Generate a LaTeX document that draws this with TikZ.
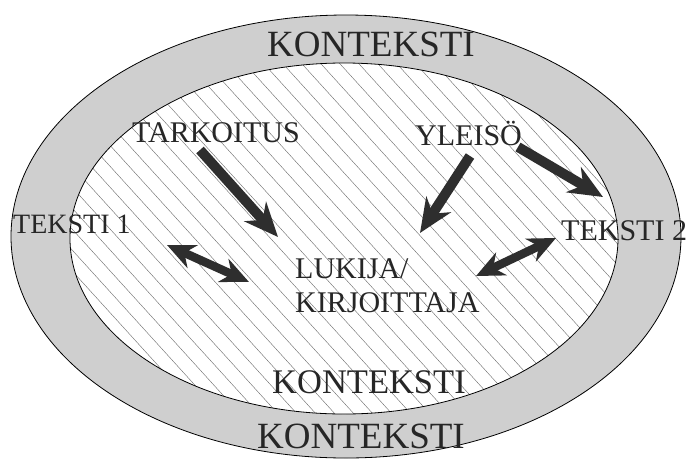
\documentclass[tikz,border=0pt]{standalone}
\usepackage{fontspec}
\setmainfont{Liberation Serif}
\usetikzlibrary{arrows.meta}
\definecolor{ringgray}{gray}{0.81}
\definecolor{hatchgray}{gray}{0.42}
\definecolor{arrowgray}{gray}{0.18}
\begin{document}
\begin{tikzpicture}[x=1pt,y=-1pt,
  lbl/.style={anchor=base west,inner sep=0pt,text=black!85},
  midfont/.style={font=\fontsize{30}{36}\selectfont},
  bigfont/.style={font=\fontsize{37}{44}\selectfont},
  onearrow/.style={draw=arrowgray,line width=10pt,
    -{Stealth[length=34pt,width=29pt,inset=11pt,fill=arrowgray]}},
  twoarrow/.style={draw=arrowgray,line width=8.5pt,
    {Stealth[length=28pt,width=25pt,inset=9pt,fill=arrowgray]}-{Stealth[length=28pt,width=25pt,inset=9pt,fill=arrowgray]}},
  ring/.style={draw=black,line width=0.8pt}
]
\useasboundingbox (0,0) rectangle (689,459);

% outer context ring
\fill[ringgray] (346,236.5) ellipse [x radius=335, y radius=221.5];
\draw[ring] (346,236.5) ellipse [x radius=335, y radius=221.5];

% hatched inner area
\fill[white] (344,238.5) ellipse [x radius=274, y radius=175.5];
\begin{scope}
  \clip (344,238.5) ellipse [x radius=274, y radius=175.5];
  \foreach \i in {-440,-421,...,700}
    \draw[hatchgray,line width=0.4pt] (\i,0) -- ++(417,459);
\end{scope}
\draw[ring] (344,238.5) ellipse [x radius=274, y radius=175.5];

% labels
\node[lbl,bigfont] (ktop) at (267,56) {KONTEKSTI};
\node[lbl,midfont] (tark) at (132,142) {TARKOITUS};
\node[lbl,midfont] (yle) at (415,145) {YLEISÖ};
\node[lbl,font=\fontsize{28}{34}\selectfont] (t1) at (13,233) {TEKSTI 1};
\node[lbl,midfont] (t2) at (561,240) {TEKSTI 2};
\node[lbl,midfont] (luk) at (295,278) {LUKIJA/};
\node[lbl,midfont] (kir) at (295,312) {KIRJOITTAJA};
\node[lbl,font=\fontsize{34.5}{40}\selectfont] (kin) at (272,393) {KONTEKSTI};
\node[lbl,bigfont] (kout) at (257,448) {KONTEKSTI};

% arrow end points
\coordinate (tarkS) at (200,150);
\coordinate (tarkE) at (278,237);
\coordinate (yleS1) at (470,156);
\coordinate (yleE1) at (420,233);
\coordinate (yleS2) at (518,147);
\coordinate (yleE2) at (603,197);
\coordinate (t1A) at (167,245);
\coordinate (t1B) at (249,282);
\coordinate (t2A) at (476,276);
\coordinate (t2B) at (556,238);

% arrows
\draw[onearrow] (tarkS) -- (tarkE);
\draw[onearrow] (yleS1) -- (yleE1);
\draw[onearrow] (yleS2) -- (yleE2);
\draw[twoarrow] (t1A) -- (t1B);
\draw[twoarrow] (t2A) -- (t2B);
\end{tikzpicture}
\end{document}
